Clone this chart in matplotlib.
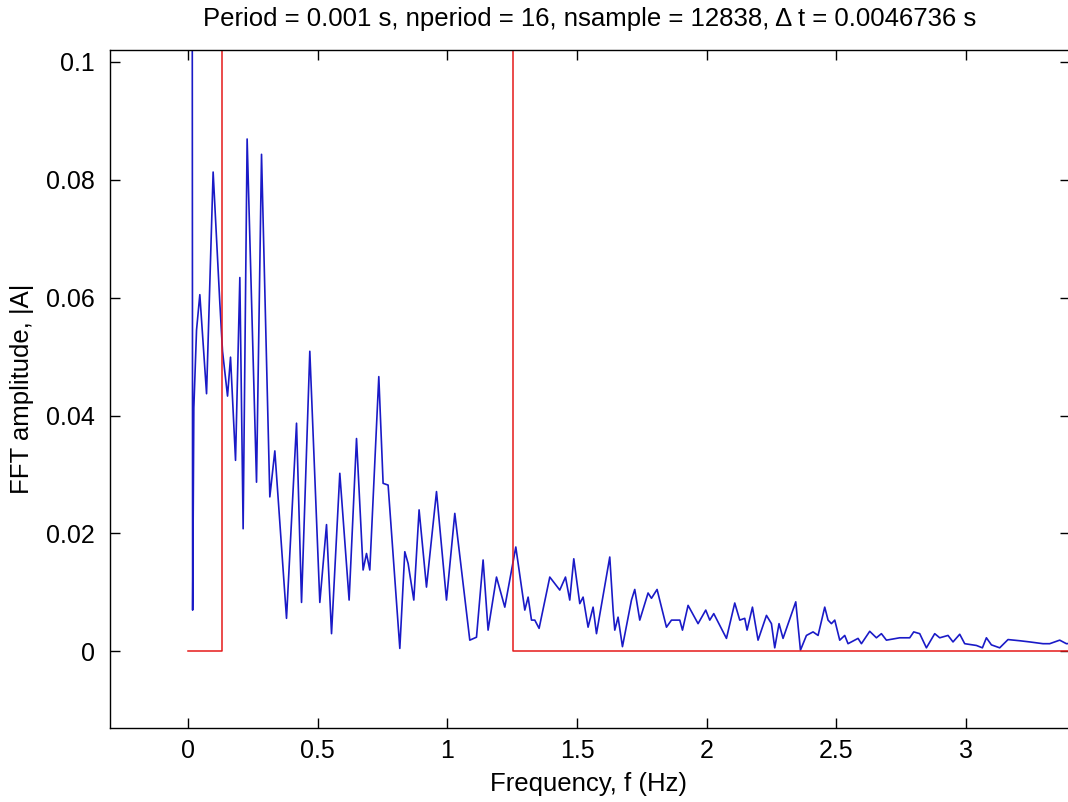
import matplotlib
matplotlib.use("Agg")
import matplotlib.pyplot as plt

plt.rcParams["font.family"] = ["Liberation Sans", "DejaVu Sans"]

# FFT amplitude spectrum, turning points
freq = [
    0.0166, 0.0185, 0.0231, 0.0335, 0.0462, 0.0721, 0.0975, 0.1233, 0.1337, 0.1530,
    0.1645, 0.1838, 0.2004, 0.2131, 0.2285, 0.2647, 0.2840, 0.3160, 0.3353, 0.3803,
    0.4189, 0.4382, 0.4701, 0.5087, 0.5345, 0.5538,
    0.5857, 0.6216, 0.6501, 0.6755, 0.6886, 0.7013, 0.7360, 0.7526, 0.7719, 0.8170,
    0.8362, 0.8490, 0.8709, 0.8913, 0.9198, 0.9584, 0.9969, 1.0289, 1.0867, 1.1125,
    1.1380, 1.1572, 1.1896, 1.2216, 1.2640,
    1.2987, 1.3115, 1.3245, 1.3372, 1.3538, 1.3950, 1.4335, 1.4555, 1.4720, 1.4875,
    1.5106, 1.5234, 1.5426, 1.5619, 1.5750,
    1.6262, 1.6390, 1.6455, 1.6582, 1.6751, 1.7098, 1.7225, 1.7418, 1.7738, 1.7869,
    1.8085, 1.8447, 1.8640, 1.8960, 1.9064, 1.9280, 1.9665, 1.9961, 2.0116, 2.0270,
    2.0759, 2.1079, 2.1272, 2.1464, 2.1553, 2.1761, 2.1977, 2.2301, 2.2493, 2.2620,
    2.2786, 2.2940, 2.3430, 2.3611, 2.3842, 2.4097, 2.4290, 2.4547, 2.4675, 2.4805,
    2.4933, 2.5125, 2.5318, 2.5445,
    2.5831, 2.5961, 2.6281, 2.6539, 2.6731, 2.6924, 2.7437, 2.7823, 2.7977, 2.8208,
    2.8466, 2.8786, 2.8979, 2.9299, 2.9491, 2.9750, 2.9942, 3.0393, 3.0624, 3.0778,
    3.0971, 3.1291, 3.1611, 3.2062, 3.2447, 3.2960, 3.3218, 3.3603, 3.3861, 3.4200,
]
amp = [
    0.1400, 0.0070, 0.0413, 0.0545, 0.0605, 0.0437, 0.0813, 0.0591, 0.0509, 0.0433,
    0.0499, 0.0324, 0.0634, 0.0208, 0.0869, 0.0287, 0.0843, 0.0262, 0.0340, 0.0056,
    0.0387, 0.0083, 0.0509, 0.0083, 0.0215, 0.0030,
    0.0302, 0.0087, 0.0361, 0.0138, 0.0166, 0.0138, 0.0466, 0.0285, 0.0282, 0.0005,
    0.0169, 0.0149, 0.0087, 0.0240, 0.0109, 0.0271, 0.0087, 0.0234, 0.0019, 0.0024,
    0.0155, 0.0036, 0.0126, 0.0075, 0.0177,
    0.0070, 0.0092, 0.0053, 0.0053, 0.0039, 0.0126, 0.0104, 0.0126, 0.0087, 0.0157,
    0.0081, 0.0092, 0.0041, 0.0075, 0.0030,
    0.0160, 0.0070, 0.0036, 0.0058, 0.0008, 0.0087, 0.0105, 0.0053, 0.0099, 0.0090,
    0.0105, 0.0041, 0.0053, 0.0053, 0.0036, 0.0078, 0.0047, 0.0070, 0.0053, 0.0064,
    0.0022, 0.0082, 0.0053, 0.0056, 0.0036, 0.0075, 0.0019, 0.0061, 0.0047, 0.0006,
    0.0047, 0.0022, 0.0084, 0.0002, 0.0027, 0.0033, 0.0027, 0.0075, 0.0053, 0.0047,
    0.0053, 0.0019, 0.0027, 0.0013,
    0.0022, 0.0013, 0.0034, 0.0023, 0.0030, 0.0019, 0.0023, 0.0023, 0.0033, 0.0030,
    0.0006, 0.0030, 0.0023, 0.0027, 0.0016, 0.0029, 0.0013, 0.0010, 0.0006, 0.0023,
    0.0011, 0.0006, 0.0020, 0.0018, 0.0016, 0.0013, 0.0013, 0.0019, 0.0013, 0.0014,
]

# band-pass window (red)
win_freq = [0.0, 0.1322, 0.1322, 1.2524, 1.2524, 3.6]
win_amp = [0.0, 0.0, 1.0, 1.0, 0.0, 0.0]

xticks = [0, 0.5, 1, 1.5, 2, 2.5, 3]
xtick_labels = ["0", "0.5", "1", "1.5", "2", "2.5", "3"]
yticks = [0, 0.02, 0.04, 0.06, 0.08, 0.1]
ytick_labels = ["0", "0.02", "0.04", "0.06", "0.08", "0.1"]

W, H = 1068, 802
fig = plt.figure(figsize=(W / 100, H / 100), dpi=100)
ax = fig.add_axes([110 / W, 1 - 728 / H, 960 / W, 678 / H])

ax.plot(freq, amp, color=(0.1, 0.1, 0.78), linewidth=1.2)
ax.plot(win_freq, win_amp, color=(0.9, 0.1, 0.1), linewidth=1.1)

ax.set_xlim(-0.3, 3.4)
ax.set_ylim(-0.013, 0.102)
ax.set_xticks(xticks)
ax.set_xticklabels(xtick_labels)
ax.set_yticks(yticks)
ax.set_yticklabels(ytick_labels)

ax.tick_params(direction="in", length=7, width=1.0, top=True, right=True,
               labelsize=18)
ax.tick_params(axis="x", pad=8)
ax.tick_params(axis="y", pad=11)
for s in ax.spines.values():
    s.set_linewidth(1.0)

fig.text(590 / W, 1 - 19 / H,
         "Period = 0.001 s, nperiod = 16, nsample = 12838, \u0394 t = 0.0046736 s",
         ha="center", va="center", fontsize=18.5)
fig.text(589 / W, 1 - 784 / H, "Frequency, f (Hz)",
         ha="center", va="center", fontsize=18.5)
fig.text(22 / W, 1 - 389 / H, "FFT amplitude, |A|",
         ha="center", va="center", rotation=90, fontsize=18.5)

fig.savefig("out.png", dpi=100)
